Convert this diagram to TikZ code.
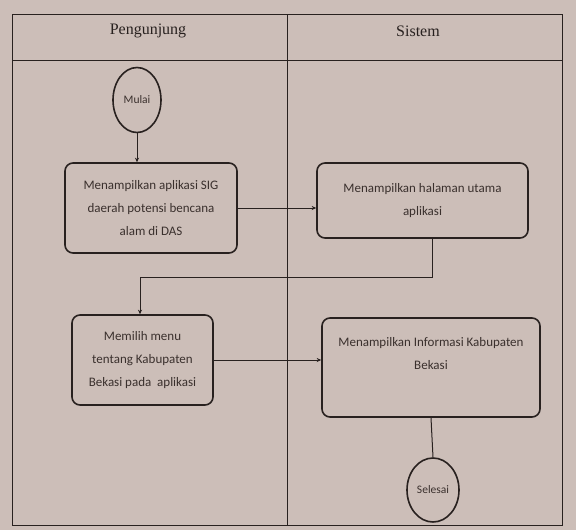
\documentclass[tikz,border=0pt]{standalone}
\usepackage{fontspec}
\setmainfont{Carlito}
\newfontfamily\headfont{Liberation Serif}
\usetikzlibrary{shapes.geometric,arrows.meta}
\definecolor{paper}{RGB}{204,190,184}
\definecolor{ink}{RGB}{40,33,31}
\definecolor{txt}{RGB}{58,48,45}
\begin{document}
\begin{tikzpicture}[x=1pt,y=-1pt,
  lane/.style={draw=ink,line width=1pt},
  actbox/.style={draw=ink,line width=1.6pt,rounded corners=8pt,align=center,
    font=\fontsize{13}{23}\selectfont,text=txt,inner sep=0pt},
  term/.style={ellipse,draw=ink,line width=1.6pt,inner sep=0pt,
    font=\fontsize{11.5}{13}\selectfont,text=txt},
  flow/.style={draw=ink,line width=1pt,-{Stealth[length=4.5pt,width=4pt]}},
  plain/.style={draw=ink,line width=1pt}]
\useasboundingbox (0,0) rectangle (576,530);
\fill[paper] (0,0) rectangle (576,530);

% swimlane frame
\draw[lane] (12,14) rectangle (562,525);
\draw[lane] (12,60) -- (562,60);
\draw[lane] (287,14) -- (287,525);
\node[font=\headfont\fontsize{16}{18}\selectfont,text=ink] (hpeng) at (148,31) {Pengunjung};
\node[font=\headfont\fontsize{16}{18}\selectfont,text=ink] (hsis) at (418,31) {Sistem};

% activities
\node[term,minimum width=48pt,minimum height=65pt] (mulai) at (137,100) {Mulai};
\node[actbox,minimum width=172pt,minimum height=90pt] (b1) at (151,208)
  {Menampilkan aplikasi SIG\\daerah potensi bencana\\alam di DAS};
\node[actbox,minimum width=211pt,minimum height=75pt] (b2) at (422.5,200.5)
  {Menampilkan halaman utama\\aplikasi};
\node[actbox,minimum width=141pt,minimum height=90pt] (b3) at (142.5,360)
  {Memilih menu\\tentang Kabupaten\\Bekasi pada\ \ aplikasi};
\node[actbox,minimum width=218pt,minimum height=99pt] (b4) at (431,367.5) {};
\node[font=\fontsize{13}{23}\selectfont,text=txt,align=center,inner sep=0pt]
  (b4txt) at (431,354) {Menampilkan Informasi Kabupaten\\Bekasi};
\node[term,minimum width=52pt,minimum height=64pt] (selesai) at (433,490) {Selesai};

% connectors
\coordinate (t1) at (432,277);
\coordinate (t2) at (140,277);
\draw[flow] (mulai.south) -- (b1.north -| mulai.south);
\draw[flow] (b1.east) -- (b1.east -| b2.west);
\draw[flow] (b2.south -| t1) -- (t1) -- (t2) -- (b3.north -| t2);
\draw[flow] (b3.east) -- (b3.east -| b4.west);
\draw[plain] (b4.south) -- (selesai.north);
\end{tikzpicture}
\end{document}
